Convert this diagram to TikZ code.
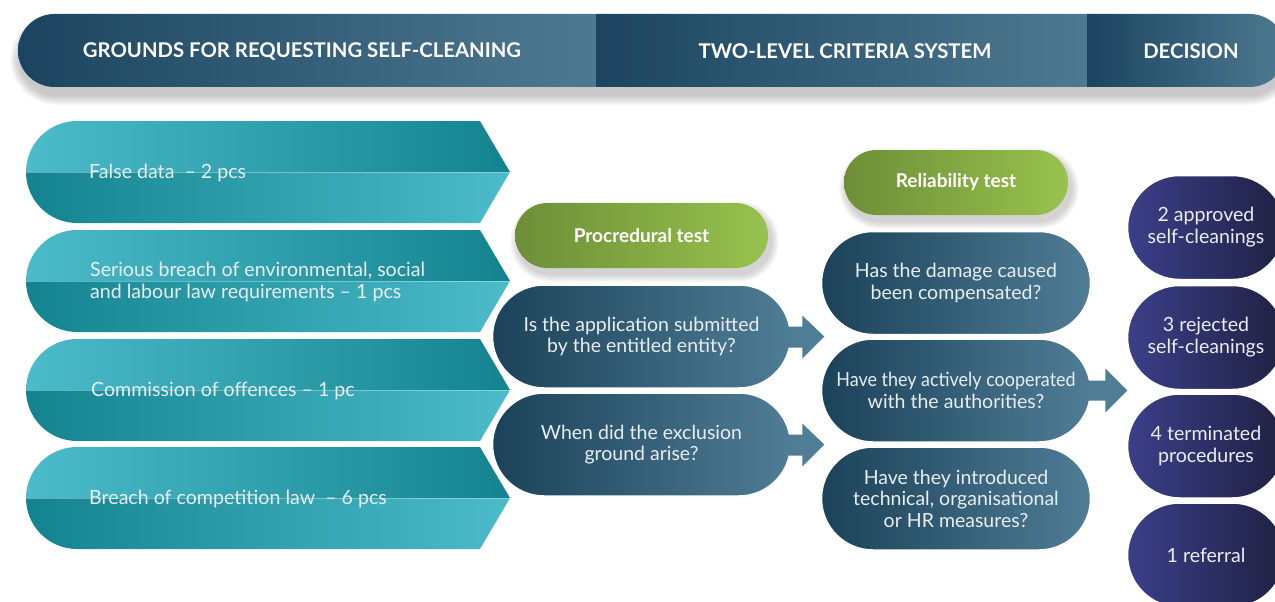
\documentclass[tikz,border=0pt]{standalone}
\usepackage{fontspec}
\setmainfont{Lato}
\usetikzlibrary{shapes.misc,calc}
\definecolor{hdL}{HTML}{1C4460}
\definecolor{hdR}{HTML}{4E7A91}
\definecolor{tlL}{HTML}{4CBBCA}
\definecolor{tlD}{HTML}{13848F}
\definecolor{grL}{HTML}{6D8E37}
\definecolor{grR}{HTML}{98C24E}
\definecolor{qL}{HTML}{1B4259}
\definecolor{qR}{HTML}{4F7D95}
\definecolor{puL}{HTML}{3B3F89}
\definecolor{puR}{HTML}{1F2142}
\definecolor{txt}{HTML}{E8EEF1}
\begin{document}
\begin{tikzpicture}[x=1pt,y=-1pt,
  hdtext/.style={text=white,font=\bfseries\fontsize{20.3}{23}\selectfont},
  pill/.style={rounded rectangle, inner sep=0pt, draw=white, line width=1.5pt, align=center, text=txt, font=\fontsize{19.5}{21.5}\selectfont},
  qpill/.style={pill, left color=qL, right color=qR, minimum height=103},
  gpill/.style={pill, draw=none, left color=grL, right color=grR, minimum height=65, text=white, font=\bfseries\fontsize{19}{22}\selectfont},
  dpill/.style={pill, left color=puL, right color=puR, minimum width=157, minimum height=104, font=\fontsize{19.6}{22}\selectfont},
  tltext/.style={anchor=west, text=txt, align=left, inner sep=0pt, font=\fontsize{19.6}{22}\selectfont},
  blockarrow/.style={fill=qR}
]
\useasboundingbox (0,0) rectangle (1275,602);

% header shadow
\foreach \i in {1,...,10}{
  \pgfmathsetmacro\rr{36.5+\i}
  \fill[black, opacity=0.022, rounded corners=\rr pt] (18-\i+2,14+10-\i) rectangle (1286+\i,87+8+\i);
}
% header bar
\begin{scope}
  \clip[rounded corners=36.5pt] (18,14) rectangle (1286,87);
  \shade[left color=hdL, right color=hdR] (18,14) rectangle (596,87);
  \shade[left color=hdL, right color=hdR] (596,14) rectangle (1087,87);
  \shade[left color=hdL, right color=hdR] (1087,14) rectangle (1286,87);
\end{scope}
\node[hdtext] (h1) at (302,51.5) {GROUNDS FOR REQUESTING SELF-CLEANING};
\node[hdtext] (h2) at (845,51.5) {TWO-LEVEL CRITERIA SYSTEM};
\node[hdtext] (h3) at (1191,51.5) {DECISION};

% teal arrows
\foreach \m in {172,281,390,498}{
  \shade[left color=tlL, right color=tlD] (26,\m) arc[start angle=180,end angle=270,radius=51] -- (480,\m-51) -- (510,\m) -- cycle;
  \shade[left color=tlD, right color=tlL] (26,\m) arc[start angle=180,end angle=90,radius=51] -- (480,\m+51) -- (510,\m) -- cycle;
  \draw[white, opacity=0.35, line width=0.6pt] (26,\m) -- (510,\m);
}
\node[tltext] (t1) at (89,172.5) {False data~~– 2 pcs};
\node[tltext] (t2) at (90,282) {Serious breach of environmental, social\\and labour law requirements – 1 pcs};
\node[tltext] (t3) at (91,390.5) {Commission of offences – 1 pc};
\node[tltext] (t4) at (89,498.5) {Breach of competition law~~– 6 pcs};

% green pill shadows
\foreach \cx/\cy/\w in {641.5/235.5/253, 956/182.5/224}{
  \foreach \i in {1,...,8}{
    \pgfmathsetmacro\rr{32.5+\i}
    \fill[black, opacity=0.025, rounded corners=\rr pt] (\cx-\w/2-\i+3,\cy-32.5-\i+6) rectangle (\cx+\w/2+\i+3,\cy+32.5+\i+6);
  }
}

% procedural test
\node[gpill, minimum width=253] (pt) at (641.5,235.5) {Procredural test};
\node[qpill, minimum width=298] (q1) at (641.5,336.5) {Is the application submitted\\by the entitled entity?};
\node[qpill, minimum width=298] (q2) at (641.5,444.5) {When did the exclusion\\ground arise?};

% reliability test
\node[gpill, minimum width=224] (rt) at (956,182.5) {Reliability test};
\node[qpill, minimum width=269] (ra) at (956,283) {Has the damage caused\\been compensated?};
\node[qpill, minimum width=269] (rb) at (956,390.5) {\scalebox{0.92}[1]{Have they actively cooperated}\\with the authorities?};
\node[qpill, minimum width=269] (rc) at (956,498.5) {Have they introduced\\technical, organisational\\or HR measures?};

% decisions
\node[dpill] (d1) at (1206,227.5) {2 approved\\self-cleanings};
\node[dpill] (d2) at (1206,337.5) {3 rejected\\self-cleanings};
\node[dpill] (d3) at (1206,446) {4 terminated\\procedures};
\node[dpill] (d4) at (1206,555) {1 referral};

% block arrows
\foreach \n in {q1,q2}{
  \fill[blockarrow] ($(\n.east)+(-4,-10)$) -- ++(15,0) -- ++(0,-11) -- ++(22,21) -- ++(-22,22) -- ++(0,-11) -- ++(-15,0) -- cycle;
}
\fill[blockarrow] ($(rb.east)+(-4,-10)$) -- ++(18,0) -- ++(0,-12) -- ++(22,22) -- ++(-22,22) -- ++(0,-12) -- ++(-18,0) -- cycle;
\end{tikzpicture}
\end{document}
